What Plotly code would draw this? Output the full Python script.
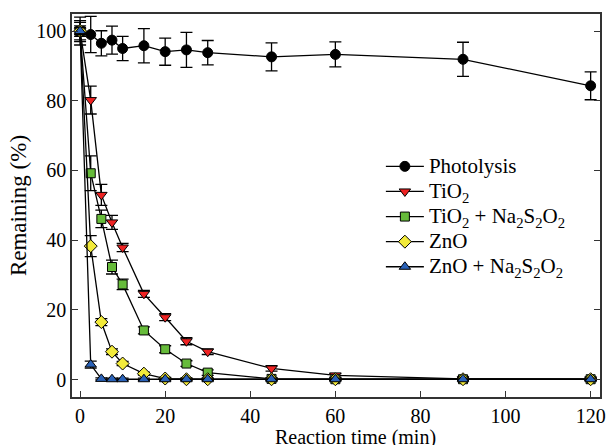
import plotly.graph_objects as go

time_ph = [0, 2.5, 5, 7.5, 10, 15, 20, 25, 30, 45, 60, 90, 120]
photolysis = [100, 99.0, 96.5, 97.4, 95.0, 95.8, 94.1, 94.6, 93.8, 92.6, 93.3, 91.9, 84.3]
photolysis_err = [4, 5.2, 3.6, 4.0, 3.5, 4.9, 3.9, 5.0, 3.5, 4.0, 3.6, 4.9, 4.0]

time = [0, 2.5, 5, 7.5, 10, 15, 20, 25, 30, 45, 60, 90, 120]
tio2 = [100, 80.2, 53.0, 45.1, 37.9, 24.6, 17.9, 11.0, 8.0, 3.2, 1.2, 0.2, 0.1]
tio2_err = [3, 4.0, 3.0, 2.0, 1.2, 1.0, 1.0, 1.0, 0.8, 0.8, 0.5, 0.3, 0.3]
tio2_na = [100, 59.2, 46.1, 32.3, 27.3, 14.1, 8.7, 4.6, 2.0, 0.2, 0.1, 0.1, 0.1]
tio2_na_err = [2.5, 5.0, 2.5, 2.0, 1.5, 1.0, 1.0, 0.8, 0.8, 0.3, 0.3, 0.3, 0.3]
zno = [100, 38.3, 16.5, 8.0, 4.6, 1.7, 0.3, 0.1, 0.1, 0.1, 0.1, 0.1, 0.1]
zno_err = [1.5, 3.0, 1.0, 0.8, 0.6, 0.4, 0.3, 0.3, 0.3, 0.3, 0.3, 0.3, 0.3]
zno_na = [100, 4.3, 0.2, 0.1, 0.1, 0.1, 0.1, 0.1, 0.1, 0.1, 0.1, 0.1, 0.1]
zno_na_err = [1.0, 1.0, 0.3, 0.3, 0.3, 0.3, 0.3, 0.3, 0.3, 0.3, 0.3, 0.3, 0.3]

x_ticks = [0, 20, 40, 60, 80, 100, 120]
y_ticks = [0, 20, 40, 60, 80, 100]

FONT = "Liberation Serif"


def big(label):
    return "<span style='font-size:21px'>" + label + "</span>"


series = [
    ("Photolysis", time_ph, photolysis, photolysis_err, "circle", "black", 10),
    ("TiO<sub>2</sub>", time, tio2, tio2_err, "triangle-down", "#ee2222", 10),
    ("TiO<sub>2</sub> + Na<sub>2</sub>S<sub>2</sub>O<sub>2</sub>", time, tio2_na, tio2_na_err, "square", "#66bb3a", 9),
    ("ZnO", time, zno, zno_err, "diamond", "#f2ea3a", 10),
    ("ZnO + Na<sub>2</sub>S<sub>2</sub>O<sub>2</sub>", time, zno_na, zno_na_err, "triangle-up", "#2a62b8", 10),
]

fig = go.Figure()
for name, xs, ys, es, sym, col, sz in series:
    fig.add_trace(go.Scatter(
        x=xs, y=ys, name=big(name), mode="lines+markers",
        line=dict(color="black", width=1.3),
        marker=dict(symbol=sym, color=col, size=sz, line=dict(color="black", width=1)),
        error_y=dict(type="data", array=es, visible=True, color="black", thickness=1.3, width=6),
    ))

axis_common = dict(
    showline=True, linecolor="#333333", linewidth=1.5,
    ticks="inside", ticklen=6, tickwidth=1.2, tickcolor="#333333",
    showgrid=False, zeroline=False,
    tickfont=dict(family=FONT, size=20, color="black"),
)

fig.update_layout(
    width=614, height=445,
    margin=dict(l=72, r=8, t=14, b=48),
    paper_bgcolor="white", plot_bgcolor="white",
    font=dict(family=FONT, color="black"),
    xaxis=dict(range=[-1.9, 122.2], tickvals=x_ticks, mirror=True, **axis_common),
    yaxis=dict(range=[-5.0, 104.9], tickvals=y_ticks, mirror="ticks",
               title=dict(text="Remaining (%)", font=dict(family=FONT, size=23), standoff=3),
               **axis_common),
    legend=dict(x=0.585, y=0.648, xanchor="left", yanchor="top",
                bgcolor="rgba(0,0,0,0)", font=dict(family=FONT, size=17),
                tracegroupgap=0, itemwidth=38),
    showlegend=True,
    annotations=[dict(text="Reaction time (min)", xref="paper", yref="paper",
                      x=0.537, y=0, xanchor="center", yanchor="top", yshift=-27,
                      showarrow=False, font=dict(family=FONT, size=20, color="black"))],
)

fig.write_html("out.html", post_script="document.body.style.margin='0';",
               config={"displayModeBar": False})
